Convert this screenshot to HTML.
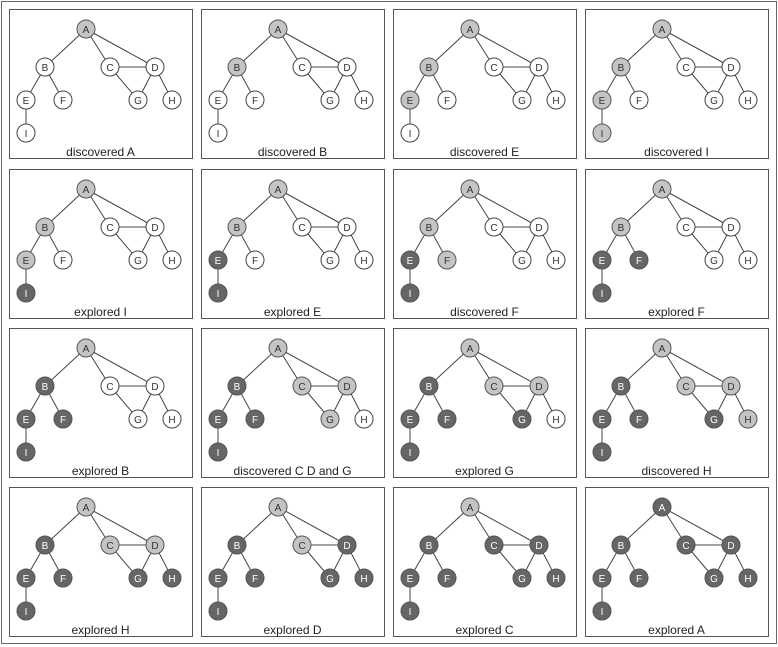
<!DOCTYPE html>
<html><head><meta charset="utf-8"><style>
html,body{margin:0;padding:0;background:#fff}
svg{display:block}
text{font-family:"Liberation Sans",sans-serif}
.w{fill:#fff;stroke:#444;stroke-width:1}
.l{fill:#c4c4c4;stroke:#555;stroke-width:1}
.d{fill:#666;stroke:#555;stroke-width:1}
.t{font-size:10px;text-anchor:middle;fill:#333}
.td{font-size:10px;text-anchor:middle;fill:#fff}
.lab{font-size:12px;text-anchor:middle;fill:#222}
</style></head><body>
<svg width="778" height="647" viewBox="0 0 778 647" xmlns="http://www.w3.org/2000/svg">
<defs>
<g id="e" stroke="#444" stroke-width="1">
<rect x="0.5" y="0.5" width="183" height="149" fill="#fff" stroke="#555"/>
<line x1="77" y1="20" x2="36" y2="58"/><line x1="77" y1="20" x2="101" y2="58"/><line x1="77" y1="20" x2="146" y2="58"/>
<line x1="36" y1="58" x2="17" y2="91"/><line x1="36" y1="58" x2="54" y2="91"/><line x1="101" y1="58" x2="146" y2="58"/>
<line x1="101" y1="58" x2="129" y2="91"/><line x1="146" y1="58" x2="129" y2="91"/><line x1="146" y1="58" x2="163" y2="91"/>
<line x1="17" y1="91" x2="17" y2="124"/>
</g>
</defs>
<rect x="1.5" y="1.5" width="775" height="642" fill="#fff" stroke="#666"/>

<!-- Row 1 -->
<g transform="translate(9,9)"><use href="#e"/>
<circle class="l" cx="77" cy="20" r="9"/><text class="t" x="77" y="24">A</text>
<circle class="w" cx="36" cy="58" r="9"/><text class="t" x="36" y="62">B</text>
<circle class="w" cx="101" cy="58" r="9"/><text class="t" x="101" y="62">C</text>
<circle class="w" cx="146" cy="58" r="9"/><text class="t" x="146" y="62">D</text>
<circle class="w" cx="17" cy="91" r="9"/><text class="t" x="17" y="95">E</text>
<circle class="w" cx="54" cy="91" r="9"/><text class="t" x="54" y="95">F</text>
<circle class="w" cx="129" cy="91" r="9"/><text class="t" x="129" y="95">G</text>
<circle class="w" cx="163" cy="91" r="9"/><text class="t" x="163" y="95">H</text>
<circle class="w" cx="17" cy="124" r="9"/><text class="t" x="17" y="128">I</text>
<text class="lab" x="91.5" y="147">discovered A</text></g>

<g transform="translate(201,9)"><use href="#e"/>
<circle class="l" cx="77" cy="20" r="9"/><text class="t" x="77" y="24">A</text>
<circle class="l" cx="36" cy="58" r="9"/><text class="t" x="36" y="62">B</text>
<circle class="w" cx="101" cy="58" r="9"/><text class="t" x="101" y="62">C</text>
<circle class="w" cx="146" cy="58" r="9"/><text class="t" x="146" y="62">D</text>
<circle class="w" cx="17" cy="91" r="9"/><text class="t" x="17" y="95">E</text>
<circle class="w" cx="54" cy="91" r="9"/><text class="t" x="54" y="95">F</text>
<circle class="w" cx="129" cy="91" r="9"/><text class="t" x="129" y="95">G</text>
<circle class="w" cx="163" cy="91" r="9"/><text class="t" x="163" y="95">H</text>
<circle class="w" cx="17" cy="124" r="9"/><text class="t" x="17" y="128">I</text>
<text class="lab" x="91.5" y="147">discovered B</text></g>

<g transform="translate(393,9)"><use href="#e"/>
<circle class="l" cx="77" cy="20" r="9"/><text class="t" x="77" y="24">A</text>
<circle class="l" cx="36" cy="58" r="9"/><text class="t" x="36" y="62">B</text>
<circle class="w" cx="101" cy="58" r="9"/><text class="t" x="101" y="62">C</text>
<circle class="w" cx="146" cy="58" r="9"/><text class="t" x="146" y="62">D</text>
<circle class="l" cx="17" cy="91" r="9"/><text class="t" x="17" y="95">E</text>
<circle class="w" cx="54" cy="91" r="9"/><text class="t" x="54" y="95">F</text>
<circle class="w" cx="129" cy="91" r="9"/><text class="t" x="129" y="95">G</text>
<circle class="w" cx="163" cy="91" r="9"/><text class="t" x="163" y="95">H</text>
<circle class="w" cx="17" cy="124" r="9"/><text class="t" x="17" y="128">I</text>
<text class="lab" x="91.5" y="147">discovered E</text></g>

<g transform="translate(585,9)"><use href="#e"/>
<circle class="l" cx="77" cy="20" r="9"/><text class="t" x="77" y="24">A</text>
<circle class="l" cx="36" cy="58" r="9"/><text class="t" x="36" y="62">B</text>
<circle class="w" cx="101" cy="58" r="9"/><text class="t" x="101" y="62">C</text>
<circle class="w" cx="146" cy="58" r="9"/><text class="t" x="146" y="62">D</text>
<circle class="l" cx="17" cy="91" r="9"/><text class="t" x="17" y="95">E</text>
<circle class="w" cx="54" cy="91" r="9"/><text class="t" x="54" y="95">F</text>
<circle class="w" cx="129" cy="91" r="9"/><text class="t" x="129" y="95">G</text>
<circle class="w" cx="163" cy="91" r="9"/><text class="t" x="163" y="95">H</text>
<circle class="l" cx="17" cy="124" r="9"/><text class="t" x="17" y="128">I</text>
<text class="lab" x="91.5" y="147">discovered I</text></g>

<!-- Row 2 -->
<g transform="translate(9,169)"><use href="#e"/>
<circle class="l" cx="77" cy="20" r="9"/><text class="t" x="77" y="24">A</text>
<circle class="l" cx="36" cy="58" r="9"/><text class="t" x="36" y="62">B</text>
<circle class="w" cx="101" cy="58" r="9"/><text class="t" x="101" y="62">C</text>
<circle class="w" cx="146" cy="58" r="9"/><text class="t" x="146" y="62">D</text>
<circle class="l" cx="17" cy="91" r="9"/><text class="t" x="17" y="95">E</text>
<circle class="w" cx="54" cy="91" r="9"/><text class="t" x="54" y="95">F</text>
<circle class="w" cx="129" cy="91" r="9"/><text class="t" x="129" y="95">G</text>
<circle class="w" cx="163" cy="91" r="9"/><text class="t" x="163" y="95">H</text>
<circle class="d" cx="17" cy="124" r="9"/><text class="td" x="17" y="128">I</text>
<text class="lab" x="91.5" y="147">explored I</text></g>

<g transform="translate(201,169)"><use href="#e"/>
<circle class="l" cx="77" cy="20" r="9"/><text class="t" x="77" y="24">A</text>
<circle class="l" cx="36" cy="58" r="9"/><text class="t" x="36" y="62">B</text>
<circle class="w" cx="101" cy="58" r="9"/><text class="t" x="101" y="62">C</text>
<circle class="w" cx="146" cy="58" r="9"/><text class="t" x="146" y="62">D</text>
<circle class="d" cx="17" cy="91" r="9"/><text class="td" x="17" y="95">E</text>
<circle class="w" cx="54" cy="91" r="9"/><text class="t" x="54" y="95">F</text>
<circle class="w" cx="129" cy="91" r="9"/><text class="t" x="129" y="95">G</text>
<circle class="w" cx="163" cy="91" r="9"/><text class="t" x="163" y="95">H</text>
<circle class="d" cx="17" cy="124" r="9"/><text class="td" x="17" y="128">I</text>
<text class="lab" x="91.5" y="147">explored E</text></g>

<g transform="translate(393,169)"><use href="#e"/>
<circle class="l" cx="77" cy="20" r="9"/><text class="t" x="77" y="24">A</text>
<circle class="l" cx="36" cy="58" r="9"/><text class="t" x="36" y="62">B</text>
<circle class="w" cx="101" cy="58" r="9"/><text class="t" x="101" y="62">C</text>
<circle class="w" cx="146" cy="58" r="9"/><text class="t" x="146" y="62">D</text>
<circle class="d" cx="17" cy="91" r="9"/><text class="td" x="17" y="95">E</text>
<circle class="l" cx="54" cy="91" r="9"/><text class="t" x="54" y="95">F</text>
<circle class="w" cx="129" cy="91" r="9"/><text class="t" x="129" y="95">G</text>
<circle class="w" cx="163" cy="91" r="9"/><text class="t" x="163" y="95">H</text>
<circle class="d" cx="17" cy="124" r="9"/><text class="td" x="17" y="128">I</text>
<text class="lab" x="91.5" y="147">discovered F</text></g>

<g transform="translate(585,169)"><use href="#e"/>
<circle class="l" cx="77" cy="20" r="9"/><text class="t" x="77" y="24">A</text>
<circle class="l" cx="36" cy="58" r="9"/><text class="t" x="36" y="62">B</text>
<circle class="w" cx="101" cy="58" r="9"/><text class="t" x="101" y="62">C</text>
<circle class="w" cx="146" cy="58" r="9"/><text class="t" x="146" y="62">D</text>
<circle class="d" cx="17" cy="91" r="9"/><text class="td" x="17" y="95">E</text>
<circle class="d" cx="54" cy="91" r="9"/><text class="td" x="54" y="95">F</text>
<circle class="w" cx="129" cy="91" r="9"/><text class="t" x="129" y="95">G</text>
<circle class="w" cx="163" cy="91" r="9"/><text class="t" x="163" y="95">H</text>
<circle class="d" cx="17" cy="124" r="9"/><text class="td" x="17" y="128">I</text>
<text class="lab" x="91.5" y="147">explored F</text></g>

<!-- Row 3 -->
<g transform="translate(9,328)"><use href="#e"/>
<circle class="l" cx="77" cy="20" r="9"/><text class="t" x="77" y="24">A</text>
<circle class="d" cx="36" cy="58" r="9"/><text class="td" x="36" y="62">B</text>
<circle class="w" cx="101" cy="58" r="9"/><text class="t" x="101" y="62">C</text>
<circle class="w" cx="146" cy="58" r="9"/><text class="t" x="146" y="62">D</text>
<circle class="d" cx="17" cy="91" r="9"/><text class="td" x="17" y="95">E</text>
<circle class="d" cx="54" cy="91" r="9"/><text class="td" x="54" y="95">F</text>
<circle class="w" cx="129" cy="91" r="9"/><text class="t" x="129" y="95">G</text>
<circle class="w" cx="163" cy="91" r="9"/><text class="t" x="163" y="95">H</text>
<circle class="d" cx="17" cy="124" r="9"/><text class="td" x="17" y="128">I</text>
<text class="lab" x="91.5" y="147">explored B</text></g>

<g transform="translate(201,328)"><use href="#e"/>
<circle class="l" cx="77" cy="20" r="9"/><text class="t" x="77" y="24">A</text>
<circle class="d" cx="36" cy="58" r="9"/><text class="td" x="36" y="62">B</text>
<circle class="l" cx="101" cy="58" r="9"/><text class="t" x="101" y="62">C</text>
<circle class="l" cx="146" cy="58" r="9"/><text class="t" x="146" y="62">D</text>
<circle class="d" cx="17" cy="91" r="9"/><text class="td" x="17" y="95">E</text>
<circle class="d" cx="54" cy="91" r="9"/><text class="td" x="54" y="95">F</text>
<circle class="l" cx="129" cy="91" r="9"/><text class="t" x="129" y="95">G</text>
<circle class="w" cx="163" cy="91" r="9"/><text class="t" x="163" y="95">H</text>
<circle class="d" cx="17" cy="124" r="9"/><text class="td" x="17" y="128">I</text>
<text class="lab" x="91.5" y="147">discovered C D and G</text></g>

<g transform="translate(393,328)"><use href="#e"/>
<circle class="l" cx="77" cy="20" r="9"/><text class="t" x="77" y="24">A</text>
<circle class="d" cx="36" cy="58" r="9"/><text class="td" x="36" y="62">B</text>
<circle class="l" cx="101" cy="58" r="9"/><text class="t" x="101" y="62">C</text>
<circle class="l" cx="146" cy="58" r="9"/><text class="t" x="146" y="62">D</text>
<circle class="d" cx="17" cy="91" r="9"/><text class="td" x="17" y="95">E</text>
<circle class="d" cx="54" cy="91" r="9"/><text class="td" x="54" y="95">F</text>
<circle class="d" cx="129" cy="91" r="9"/><text class="td" x="129" y="95">G</text>
<circle class="w" cx="163" cy="91" r="9"/><text class="t" x="163" y="95">H</text>
<circle class="d" cx="17" cy="124" r="9"/><text class="td" x="17" y="128">I</text>
<text class="lab" x="91.5" y="147">explored G</text></g>

<g transform="translate(585,328)"><use href="#e"/>
<circle class="l" cx="77" cy="20" r="9"/><text class="t" x="77" y="24">A</text>
<circle class="d" cx="36" cy="58" r="9"/><text class="td" x="36" y="62">B</text>
<circle class="l" cx="101" cy="58" r="9"/><text class="t" x="101" y="62">C</text>
<circle class="l" cx="146" cy="58" r="9"/><text class="t" x="146" y="62">D</text>
<circle class="d" cx="17" cy="91" r="9"/><text class="td" x="17" y="95">E</text>
<circle class="d" cx="54" cy="91" r="9"/><text class="td" x="54" y="95">F</text>
<circle class="d" cx="129" cy="91" r="9"/><text class="td" x="129" y="95">G</text>
<circle class="l" cx="163" cy="91" r="9"/><text class="t" x="163" y="95">H</text>
<circle class="d" cx="17" cy="124" r="9"/><text class="td" x="17" y="128">I</text>
<text class="lab" x="91.5" y="147">discovered H</text></g>

<!-- Row 4 -->
<g transform="translate(9,487)"><use href="#e"/>
<circle class="l" cx="77" cy="20" r="9"/><text class="t" x="77" y="24">A</text>
<circle class="d" cx="36" cy="58" r="9"/><text class="td" x="36" y="62">B</text>
<circle class="l" cx="101" cy="58" r="9"/><text class="t" x="101" y="62">C</text>
<circle class="l" cx="146" cy="58" r="9"/><text class="t" x="146" y="62">D</text>
<circle class="d" cx="17" cy="91" r="9"/><text class="td" x="17" y="95">E</text>
<circle class="d" cx="54" cy="91" r="9"/><text class="td" x="54" y="95">F</text>
<circle class="d" cx="129" cy="91" r="9"/><text class="td" x="129" y="95">G</text>
<circle class="d" cx="163" cy="91" r="9"/><text class="td" x="163" y="95">H</text>
<circle class="d" cx="17" cy="124" r="9"/><text class="td" x="17" y="128">I</text>
<text class="lab" x="91.5" y="147">explored H</text></g>

<g transform="translate(201,487)"><use href="#e"/>
<circle class="l" cx="77" cy="20" r="9"/><text class="t" x="77" y="24">A</text>
<circle class="d" cx="36" cy="58" r="9"/><text class="td" x="36" y="62">B</text>
<circle class="l" cx="101" cy="58" r="9"/><text class="t" x="101" y="62">C</text>
<circle class="d" cx="146" cy="58" r="9"/><text class="td" x="146" y="62">D</text>
<circle class="d" cx="17" cy="91" r="9"/><text class="td" x="17" y="95">E</text>
<circle class="d" cx="54" cy="91" r="9"/><text class="td" x="54" y="95">F</text>
<circle class="d" cx="129" cy="91" r="9"/><text class="td" x="129" y="95">G</text>
<circle class="d" cx="163" cy="91" r="9"/><text class="td" x="163" y="95">H</text>
<circle class="d" cx="17" cy="124" r="9"/><text class="td" x="17" y="128">I</text>
<text class="lab" x="91.5" y="147">explored D</text></g>

<g transform="translate(393,487)"><use href="#e"/>
<circle class="l" cx="77" cy="20" r="9"/><text class="t" x="77" y="24">A</text>
<circle class="d" cx="36" cy="58" r="9"/><text class="td" x="36" y="62">B</text>
<circle class="d" cx="101" cy="58" r="9"/><text class="td" x="101" y="62">C</text>
<circle class="d" cx="146" cy="58" r="9"/><text class="td" x="146" y="62">D</text>
<circle class="d" cx="17" cy="91" r="9"/><text class="td" x="17" y="95">E</text>
<circle class="d" cx="54" cy="91" r="9"/><text class="td" x="54" y="95">F</text>
<circle class="d" cx="129" cy="91" r="9"/><text class="td" x="129" y="95">G</text>
<circle class="d" cx="163" cy="91" r="9"/><text class="td" x="163" y="95">H</text>
<circle class="d" cx="17" cy="124" r="9"/><text class="td" x="17" y="128">I</text>
<text class="lab" x="91.5" y="147">explored C</text></g>

<g transform="translate(585,487)"><use href="#e"/>
<circle class="d" cx="77" cy="20" r="9"/><text class="td" x="77" y="24">A</text>
<circle class="d" cx="36" cy="58" r="9"/><text class="td" x="36" y="62">B</text>
<circle class="d" cx="101" cy="58" r="9"/><text class="td" x="101" y="62">C</text>
<circle class="d" cx="146" cy="58" r="9"/><text class="td" x="146" y="62">D</text>
<circle class="d" cx="17" cy="91" r="9"/><text class="td" x="17" y="95">E</text>
<circle class="d" cx="54" cy="91" r="9"/><text class="td" x="54" y="95">F</text>
<circle class="d" cx="129" cy="91" r="9"/><text class="td" x="129" y="95">G</text>
<circle class="d" cx="163" cy="91" r="9"/><text class="td" x="163" y="95">H</text>
<circle class="d" cx="17" cy="124" r="9"/><text class="td" x="17" y="128">I</text>
<text class="lab" x="91.5" y="147">explored A</text></g>
</svg>
</body></html>
